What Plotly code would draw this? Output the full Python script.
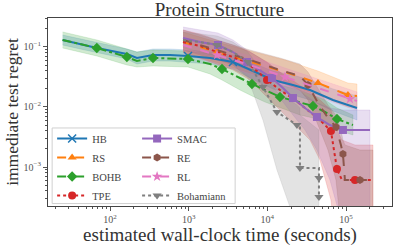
import plotly.graph_objects as go

# ---------------- data ----------------
HB_x = [25, 42, 68, 164, 220, 352, 578, 980, 1866, 3655, 6010, 11780, 21150, 34780, 68180, 137600]
HB_y = [0.131, 0.112, 0.0962, 0.0764, 0.0656, 0.0736, 0.0736, 0.0708, 0.0656, 0.0562, 0.0414, 0.0282, 0.0233, 0.0192, 0.0131, 0.00962]
HB_hi = [0.158, 0.136, 0.117, 0.0926, 0.0825, 0.0926, 0.0926, 0.0891, 0.0825, 0.0736, 0.0562, 0.0398, 0.0341, 0.0282, 0.0200, 0.0153]
HB_lo = [0.108, 0.0926, 0.0794, 0.0631, 0.0521, 0.0584, 0.0584, 0.0562, 0.0521, 0.043, 0.0304, 0.0200, 0.0158, 0.0131, 0.00858, 0.00607]

RS_x = [848, 2290, 6010, 16740, 43950, 105700, 137600]
RS_y = [0.121, 0.0825, 0.0562, 0.0383, 0.0251, 0.0158, 0.0153]
RS_hi = [0.178, 0.121, 0.0858, 0.0607, 0.0398, 0.0251, 0.0242]
RS_lo = [0.0825, 0.0562, 0.0368, 0.0242, 0.0158, 0.0100, 0.00962]

BOHB_x = [25, 68, 164, 220, 352, 980, 1866, 2650, 4480, 6370, 9330, 14460, 25950, 37950, 54000, 76660, 122400]
BOHB_y = [0.131, 0.0962, 0.0681, 0.0584, 0.0656, 0.0631, 0.0521, 0.043, 0.0304, 0.0242, 0.0192, 0.0147, 0.0121, 0.0104, 0.00825, 0.00631, 0.00501]
BOHB_hi = [0.178, 0.131, 0.0926, 0.0825, 0.0891, 0.0858, 0.0764, 0.0656, 0.0482, 0.0383, 0.0304, 0.0233, 0.0192, 0.0158, 0.0131, 0.00962, 0.00736]
BOHB_lo = [0.0962, 0.0708, 0.0501, 0.0464, 0.0482, 0.0464, 0.0355, 0.0282, 0.0192, 0.0153, 0.0121, 0.00962, 0.00736, 0.00656, 0.00521, 0.00414, 0.00341]

TPE_x = [848, 1393, 2290, 3655, 6010, 9890, 14460, 22440, 34780, 46580, 64260, 70190, 76660, 88660, 129800, 219900]
TPE_y = [0.121, 0.104, 0.0825, 0.0681, 0.0501, 0.0282, 0.0192, 0.0131, 0.00825, 0.00607, 0.00398, 0.00192, 0.000926, 0.000607, 0.000607, 0.000607]
TPE_hi = [0.192, 0.165, 0.131, 0.108, 0.0825, 0.0562, 0.0383, 0.0261, 0.0178, 0.0131, 0.00891, 0.00607, 0.00414, 0.00282, 0.00233, 0.00233]
TPE_lo = [0.0825, 0.0656, 0.0521, 0.0414, 0.0282, 0.0141, 0.00891, 0.00501, 0.00282, 0.00131, 0.000282, 0.0001, 0.0001, 0.0001, 0.0001, 0.0001]

SMAC_x = [848, 1393, 2360, 3655, 5500, 8060, 11430, 15790, 21150, 30070, 42660, 62430, 91310, 201500]
SMAC_y = [0.141, 0.121, 0.108, 0.0825, 0.0562, 0.0414, 0.0304, 0.0207, 0.0141, 0.00962, 0.00681, 0.00501, 0.00414, 0.00414]
SMAC_hi = [0.215, 0.192, 0.171, 0.131, 0.0891, 0.0656, 0.0482, 0.0341, 0.0233, 0.0158, 0.0117, 0.00962, 0.00891, 0.00891]
SMAC_lo = [0.0891, 0.0764, 0.0656, 0.0501, 0.0329, 0.0233, 0.0178, 0.0121, 0.00736, 0.00414, 0.00192, 0.000607, 0.0001, 0.0001]

RE_x = [848, 2290, 6010, 14460, 25950, 32800, 43950, 58910, 74440, 86080, 91310, 96800, 150300, 219900]
RE_y = [0.131, 0.0891, 0.0607, 0.0414, 0.0329, 0.0233, 0.0117, 0.00656, 0.00464, 0.00233, 0.00165, 0.000607, 0.000607, 0.000607]
RE_hi = [0.192, 0.131, 0.0891, 0.0656, 0.0521, 0.0383, 0.0207, 0.0108, 0.00736, 0.00414, 0.00282, 0.00233, 0.00192, 0.00192]
RE_lo = [0.0891, 0.0607, 0.0414, 0.0261, 0.0192, 0.0131, 0.00501, 0.00192, 0.000607, 0.0001, 0.0001, 0.0001, 0.0001, 0.0001]

RL_x = [848, 2290, 6010, 16740, 43950, 112100, 137600]
RL_y = [0.108, 0.0736, 0.0501, 0.0316, 0.0207, 0.0136, 0.0126]
RL_hi = [0.153, 0.104, 0.0708, 0.0447, 0.0293, 0.0192, 0.0178]
RL_lo = [0.0764, 0.0521, 0.0355, 0.0224, 0.0147, 0.00962, 0.00891]

BOHAM_x = [848, 1393, 2290, 3655, 5670, 8800, 13240, 23770, 25950, 25950, 45250, 45250, 45250]
BOHAM_y = [0.131, 0.121, 0.108, 0.0825, 0.0562, 0.0215, 0.00825, 0.00501, 0.00501, 0.000962, 0.000962, 0.000656, 0.000316]
BOHAM_hi = [0.178, 0.165, 0.153, 0.121, 0.0825, 0.0383, 0.0178, 0.0108, 0.00962, 0.00736, 0.00414, 0.00282, 0.00192]
BOHAM_lo = [0.0962, 0.0825, 0.0708, 0.0501, 0.0304, 0.006, 0.000891, 0.0001, 0.0001, 0.0001, 0.0001, 0.0001, 0.0001]

x_tick_vals = [1e2, 1e3, 1e4, 1e5]
x_tick_text = ["10<sup>2</sup>", "10<sup>3</sup>", "10<sup>4</sup>", "10<sup>5</sup>"]
y_tick_vals = [1e-3, 1e-2, 1e-1]
y_tick_text = ["10<sup>\u22123</sup>", "10<sup>\u22122</sup>", "10<sup>\u22121</sup>"]

# ---------------- styling ----------------
series = [
    # name, x, y, lo, hi, color, dash, symbol, marker indices, legend
    ("HB", HB_x, HB_y, HB_lo, HB_hi, (31, 119, 180), "solid", "x-thin", [7, 9], "legend"),
    ("RS", RS_x, RS_y, RS_lo, RS_hi, (255, 127, 14), "dash", "triangle-up", [1, 4, 5], "legend"),
    ("BOHB", BOHB_x, BOHB_y, BOHB_lo, BOHB_hi, (44, 160, 44), "dashdot", "diamond", [1, 2, 4, 5, 7, 9, 11, 13, 15], "legend"),
    ("TPE", TPE_x, TPE_y, TPE_lo, TPE_hi, (214, 39, 40), "dot", "circle", [5, 10, 12, 14], "legend"),
    ("SMAC", SMAC_x, SMAC_y, SMAC_lo, SMAC_hi, (148, 103, 189), "solid", "square", [2, 4, 6, 8, 10, 12], "legend2"),
    ("RE", RE_x, RE_y, RE_lo, RE_hi, (140, 86, 75), "dash", "hexagon", [5, 8, 10, 12], "legend2"),
    ("RL", RL_x, RL_y, RL_lo, RL_hi, (227, 119, 194), "dash", "star", [1, 3, 5], "legend2"),
    ("Bohamiann", BOHAM_x, BOHAM_y, BOHAM_lo, BOHAM_hi, (127, 127, 127), "dot", "triangle-down", [2, 4, 5, 6, 7, 9, 11, 12], "legend2"),
]

fig = go.Figure()

def rgba(c, a):
    return "rgba(%d,%d,%d,%.2f)" % (c[0], c[1], c[2], a)

# bands
for name, xs, ys, lo, hi, c, dash, sym, marks, lg in series:
    fig.add_trace(go.Scatter(
        x=list(xs) + list(xs)[::-1], y=list(hi) + list(lo)[::-1],
        fill="toself", fillcolor=rgba(c, 0.22), mode="lines",
        line=dict(width=0.6, color=rgba(c, 0.25)), hoverinfo="skip", showlegend=False))

# lines and markers
for name, xs, ys, lo, hi, c, dash, sym, marks, lg in series:
    col = rgba(c, 1)
    fig.add_trace(go.Scatter(x=xs, y=ys, mode="lines",
                             line=dict(color=col, width=2, dash=dash), showlegend=False))
    mlw = 1.5 if sym == "x-thin" else 0
    fig.add_trace(go.Scatter(x=[xs[i] for i in marks], y=[ys[i] for i in marks], mode="markers",
                             marker=dict(symbol=sym, size=8, color=col, line=dict(width=mlw, color=col)),
                             showlegend=False))
    fig.add_trace(go.Scatter(x=[None], y=[None], mode="lines+markers", name=name, legend=lg,
                             line=dict(color=col, width=2, dash=dash),
                             marker=dict(symbol=sym, size=8, color=col, line=dict(width=mlw, color=col))))

serif = "Liberation Serif"
fig.update_layout(
    template="none",
    width=399, height=246,
    margin=dict(l=48, r=7, t=18, b=40),
    paper_bgcolor="white", plot_bgcolor="white",
    font=dict(family=serif, color="#333333"),
    title=dict(text="Protein Structure", x=0.55, xanchor="center", y=0.99, yanchor="top",
               font=dict(family=serif, size=19, color="#333333")),
    legend=dict(x=0.012, y=0.436, xanchor="left", yanchor="top", bgcolor="rgba(0,0,0,0)",
                font=dict(family=serif, size=10.5, color="#444444"), itemwidth=30, tracegroupgap=0),
    legend2=dict(x=0.259, y=0.436, xanchor="left", yanchor="top", bgcolor="rgba(0,0,0,0)",
                 font=dict(family=serif, size=10.5, color="#444444"), itemwidth=30, tracegroupgap=0),
    shapes=[dict(type="rect", xref="paper", yref="paper", x0=0.012, x1=0.544, y0=0.013, y1=0.415,
                 line=dict(color="#d0d0d0", width=1), fillcolor="rgba(255,255,255,0.8)", layer="below")],
    showlegend=True,
)

minor_x = [m * 10 ** e for e in range(1, 6) for m in range(2, 10)]
minor_y = [m * 10 ** e for e in range(-4, 0) for m in range(2, 10)]

fig.update_xaxes(type="log", range=[1.212, 5.584], tickvals=x_tick_vals, ticktext=x_tick_text, automargin=False,
                 ticks="outside", ticklen=4, tickcolor="#555555", tickfont=dict(family=serif, size=10, color="#555555"),
                 showgrid=False, zeroline=False, showline=True, mirror=True, linecolor="#444444", linewidth=1,
                 minor=dict(tickvals=minor_x, ticks="outside", ticklen=2, tickcolor="#555555", showgrid=False),
                 title=dict(text="estimated wall-clock time (seconds)", font=dict(family=serif, size=19, color="#333333"),
                            standoff=0))
fig.update_yaxes(type="log", range=[-3.65, -0.517], tickvals=y_tick_vals, ticktext=y_tick_text, automargin=False,
                 ticks="outside", ticklen=4, tickcolor="#555555", tickfont=dict(family=serif, size=10, color="#555555"),
                 showgrid=False, zeroline=False, showline=True, mirror=True, linecolor="#444444", linewidth=1,
                 minor=dict(tickvals=minor_y, ticks="outside", ticklen=2, tickcolor="#555555", showgrid=False),
                 title=dict(text="immediate test regret", font=dict(family=serif, size=17.5, color="#333333"),
                            standoff=0))

fig.write_html("out.html", config={"displayModeBar": False},
               post_script="document.body.style.margin='0';document.body.style.padding='0';")
